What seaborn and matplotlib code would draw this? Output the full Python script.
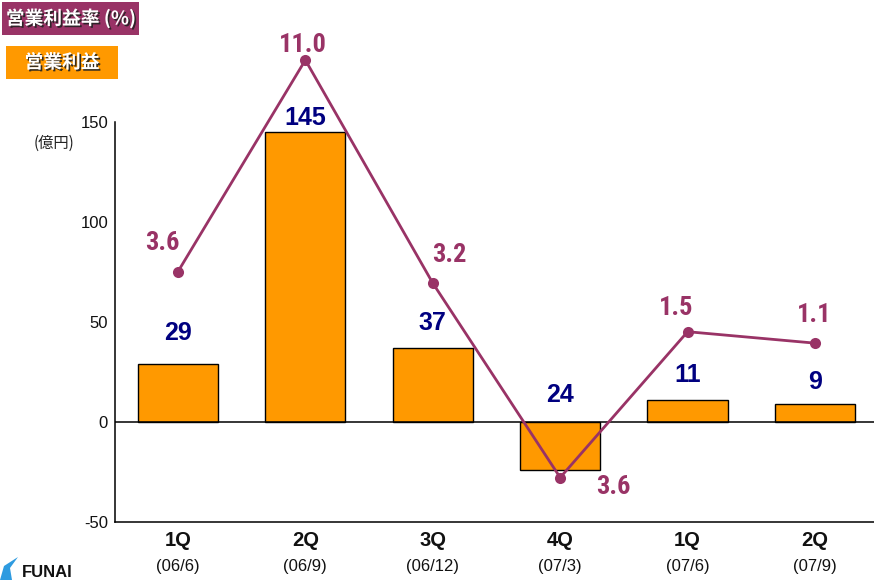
import numpy as np
import pandas as pd
import matplotlib
matplotlib.use("Agg")
import matplotlib.pyplot as plt
import matplotlib.patheffects as pe
from matplotlib.patches import Rectangle, Polygon
from matplotlib import font_manager
import seaborn as sns

# Quarterly operating profit (100M yen) and operating margin (%)
quarters = ["1Q", "2Q", "3Q", "4Q", "1Q", "2Q"]
periods = ["(06/6)", "(06/9)", "(06/12)", "(07/3)", "(07/6)", "(07/9)"]
profit = [29, 145, 37, -24, 11, 9]
margin = [3.6, 11.0, 3.2, -3.6, 1.5, 1.1]
y_ticks = [-50, 0, 50, 100, 150]

# label offsets in pixels (dx, dy) from the mark
profit_label_dy = [31, 14, 25, 27, 25, 22]
margin_label_off = [(-16, 29), (-2, 15), (17, 28), (53, -9), (-11, 24), (-1, 28)]

BAR = "#FF9900"
LINE = "#993366"
NAVY = "#000080"
LATIN = ["Liberation Sans", "DejaVu Sans"]
CJK = ["Noto Sans CJK JP", "DejaVu Sans"]

sns.set_style("white")
plt.rcParams["font.family"] = LATIN

# condensed face for the margin labels, if one is installed
installed = {f.name for f in font_manager.fontManager.ttflist}
NARROW = None
for cand in ["Liberation Sans Narrow", "DejaVu Sans Condensed", "Roboto Condensed", "Open Sans Condensed"]:
    if cand in installed:
        NARROW = cand
        break

W, H = 874, 580
fig = plt.figure(figsize=(W / 100, H / 100), dpi=100)

def fx(px):
    return px / W

def fy(py):
    return 1 - py / H

ax_left, ax_top, ax_bottom = 115, 30, 522
ax = fig.add_axes([fx(ax_left), fy(ax_bottom), 1 - fx(ax_left), (ax_bottom - ax_top) / H])

df = pd.DataFrame({"q": [f"{i}" for i in range(len(profit))], "profit": profit, "margin": margin})
sns.barplot(data=df, x="q", y="profit", color=BAR, saturation=1, width=0.63,
            edgecolor="black", linewidth=1.0, ax=ax, zorder=2)

ax.set_xlim(-0.494, 5.463)
ax.set_ylim(-50, 196)
ax.set_yticks(y_ticks)
ax.set_yticklabels([str(t) for t in y_ticks], fontsize=12, color="#111111")
ax.tick_params(axis="y", length=0, pad=5)
ax.tick_params(axis="x", length=0, labelbottom=False)
ax.set_xlabel("")
ax.set_ylabel("")
for s in ["top", "right"]:
    ax.spines[s].set_visible(False)
ax.spines["left"].set_bounds(-50, 150)
for s in ["left", "bottom"]:
    ax.spines[s].set_color("black")
    ax.spines[s].set_linewidth(1.1)
ax.axhline(0, color="black", lw=1.1, zorder=3)
ax.grid(False)

# profit value labels
for i, v in enumerate(profit):
    ax.annotate(f"{abs(v)}", xy=(i, max(v, 0)), xytext=(0, profit_label_dy[i]),
                textcoords="offset pixels", ha="center", va="center",
                fontsize=18, fontweight="bold", color=NAVY, zorder=5)

# category labels below the axis
for i, (q, p) in enumerate(zip(quarters, periods)):
    ax.annotate(q, xy=(i, 0), xycoords=("data", "axes fraction"), xytext=(0, -19),
                textcoords="offset pixels", ha="center", va="center",
                fontsize=14.5, fontweight="bold", color="#111111", annotation_clip=False)
    ax.annotate(p, xy=(i, 0), xycoords=("data", "axes fraction"), xytext=(0, -44),
                textcoords="offset pixels", ha="center", va="center",
                fontsize=12, color="#111111", annotation_clip=False)

# operating margin on a secondary scale
ax2 = ax.twinx()
sns.lineplot(x=np.arange(len(margin)), y=margin, color=LINE, lw=2.0, marker="o",
             markersize=8, markeredgewidth=0, ax=ax2, zorder=4)
ax2.set_ylim(-5.154, 12.05)
ax2.set_xlim(ax.get_xlim())
ax2.set_yticks([])
ax2.set_ylabel("")
for s in ax2.spines.values():
    s.set_visible(False)
if NARROW is not None:
    mfont = dict(family=[NARROW, "DejaVu Sans"], fontsize=19)
else:
    mfont = dict(family=["DejaVu Sans"], stretch="condensed", fontsize=17)
for i, v in enumerate(margin):
    dx, dy = margin_label_off[i]
    ax2.annotate(f"{abs(v):.1f}", xy=(i, v), xytext=(dx, dy), textcoords="offset pixels",
                 ha="center", va="center", fontweight="bold", color=LINE,
                 annotation_clip=False, **mfont)

# unit label
fig.text(fx(54), fy(143), "(億円)", ha="center", va="center", fontsize=11,
         family=CJK, color="#222222")

# legend boxes
shadow = [pe.SimplePatchShadow(offset=(1.2, -1.2), shadow_rgbFace="#222222", alpha=0.9), pe.Normal()]
fig.patches.append(Rectangle((fx(2), fy(35)), fx(137), 33 / H, transform=fig.transFigure,
                             facecolor=LINE, edgecolor="none", zorder=0))
fig.text(fx(71), fy(18.5), "営業利益率 (%)", ha="center", va="center", fontsize=13.5,
         fontweight="bold", family=CJK, color="white", path_effects=shadow)
fig.patches.append(Rectangle((fx(6), fy(79)), fx(112), 33 / H, transform=fig.transFigure,
                             facecolor=BAR, edgecolor="none", zorder=0))
fig.text(fx(62), fy(62.5), "営業利益", ha="center", va="center", fontsize=13.5,
         fontweight="bold", family=CJK, color="white", path_effects=shadow)

# company mark
fig.patches.append(Polygon([[fx(0), fy(580)], [fx(4), fy(566)], [fx(18), fy(557)],
                            [fx(10), fy(568)], [fx(12), fy(580)]],
                           closed=True, transform=fig.transFigure,
                           facecolor="#2E9BE0", edgecolor="none"))
fig.text(fx(22), fy(565), "FUNAI", ha="left", va="top", fontsize=12, fontweight="bold",
         color="#111111")

fig.savefig("out.png", dpi=100)
